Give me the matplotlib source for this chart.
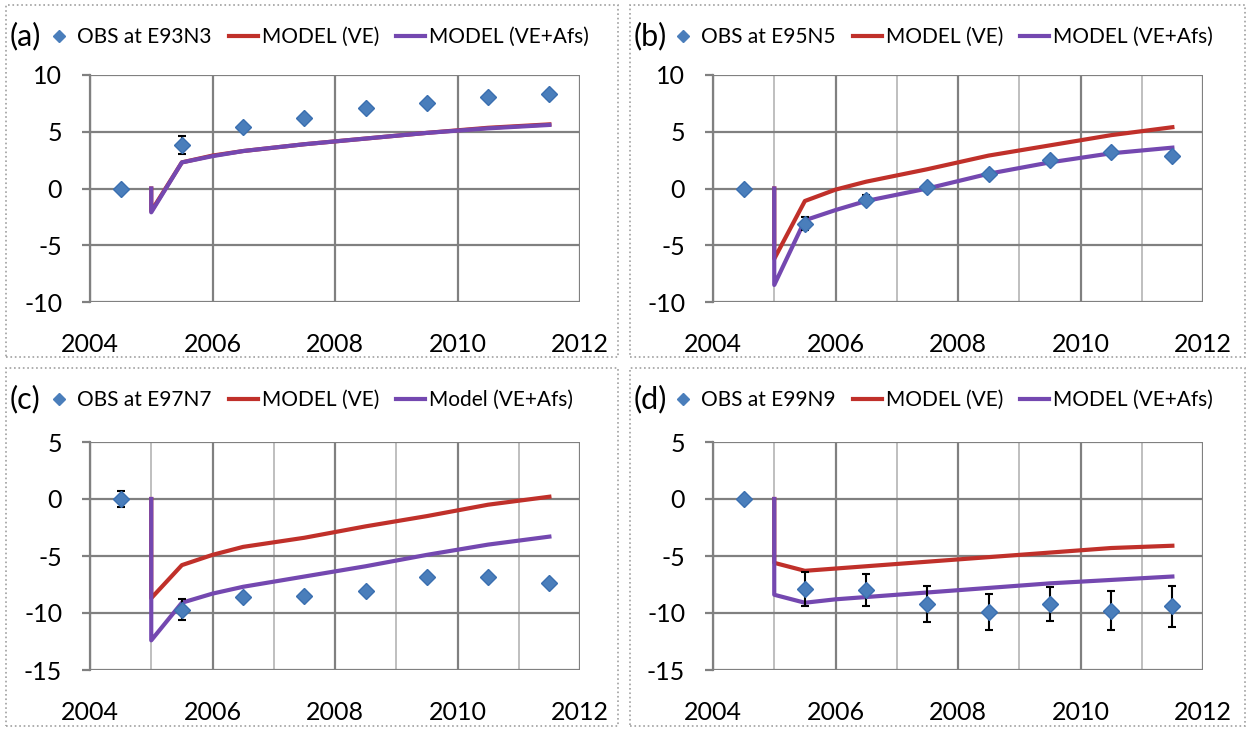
import matplotlib
matplotlib.use('Agg')
import matplotlib.pyplot as plt
from matplotlib.lines import Line2D
from matplotlib.patches import Rectangle

plt.rcParams['font.family'] = ['Lato', 'DejaVu Sans']
plt.rcParams['axes.unicode_minus'] = False

# observation epochs and model epochs (decimal years)
obs_t = [2004.5, 2005.5, 2006.5, 2007.5, 2008.5, 2009.5, 2010.5, 2011.5]
mod_t = [2005.0, 2005.0, 2005.5, 2006.0, 2006.5, 2007.5, 2008.5, 2009.5, 2010.5, 2011.5]

# (a) E93N3
obs_a = [0.0, 3.8, 5.4, 6.2, 7.1, 7.5, 8.1, 8.3]
err_a = [0.0, 0.8, 0.2, 0.2, 0.2, 0.2, 0.2, 0.3]
ve_a = [0.0, -2.0, 2.3, 2.9, 3.3, 3.9, 4.4, 4.9, 5.35, 5.65]
afs_a = [0.0, -2.1, 2.3, 2.85, 3.3, 3.9, 4.4, 4.9, 5.3, 5.6]

# (b) E95N5
obs_b = [0.0, -3.1, -1.0, 0.1, 1.3, 2.5, 3.2, 2.9]
err_b = [0.0, 0.6, 0.4, 0.2, 0.2, 0.2, 0.2, 0.2]
ve_b = [0.0, -6.2, -1.1, -0.1, 0.6, 1.7, 2.9, 3.8, 4.7, 5.4]
afs_b = [0.0, -8.5, -2.8, -1.9, -1.1, 0.0, 1.3, 2.3, 3.1, 3.6]

# (c) E97N7
obs_c = [0.0, -9.7, -8.6, -8.5, -8.1, -6.8, -6.8, -7.4]
err_c = [0.7, 0.9, 0.2, 0.2, 0.2, 0.2, 0.2, 0.2]
ve_c = [0.0, -8.7, -5.8, -4.9, -4.2, -3.4, -2.4, -1.5, -0.5, 0.2]
afs_c = [0.0, -12.4, -9.1, -8.3, -7.7, -6.8, -5.9, -4.9, -4.0, -3.3]

# (d) E99N9
obs_d = [0.0, -7.9, -8.0, -9.2, -9.9, -9.2, -9.8, -9.4]
err_d = [0.0, 1.5, 1.4, 1.6, 1.6, 1.5, 1.7, 1.8]
ve_d = [0.0, -5.6, -6.3, -6.1, -5.9, -5.5, -5.1, -4.7, -4.3, -4.1]
afs_d = [0.0, -8.4, -9.1, -8.8, -8.6, -8.2, -7.8, -7.4, -7.1, -6.8]

panels = [
    ('(a)', 'OBS at E93N3', 'MODEL (VE+Afs)', obs_a, err_a, ve_a, afs_a, (-10, 10), False),
    ('(b)', 'OBS at E95N5', 'MODEL (VE+Afs)', obs_b, err_b, ve_b, afs_b, (-10, 10), True),
    ('(c)', 'OBS at E97N7', 'Model (VE+Afs)', obs_c, err_c, ve_c, afs_c, (-15, 5), True),
    ('(d)', 'OBS at E99N9', 'MODEL (VE+Afs)', obs_d, err_d, ve_d, afs_d, (-15, 5), True),
]

W, H = 1250, 731
fig = plt.figure(figsize=(12.5, 7.31), dpi=100)

# pixel boxes: plot area (left, right, top, bottom) and panel frame
plot_boxes = [(90, 580, 75, 302), (713, 1203, 75, 302),
              (90, 580, 442, 670), (713, 1203, 442, 670)]
frames = [(6, 618, 5, 357), (630, 1245, 5, 357),
          (6, 618, 368, 726), (630, 1245, 368, 726)]

blue = '#4a7ebb'
red = '#c0302a'
purple = '#7448b0'
grid_dark = '#808080'
grid_light = '#b4b4b4'

for (tag, obs_lab, afs_lab, obs, err, ve, afs, ylim, minor), pb, fr in zip(panels, plot_boxes, frames):
    l, r, t, b = pb
    ax = fig.add_axes([l / W, 1 - b / H, (r - l) / W, (b - t) / H])
    ax.set_xlim(2004, 2012)
    ax.set_ylim(*ylim)
    ax.set_xticks([2004, 2006, 2008, 2010, 2012])
    ax.set_yticks(range(ylim[0], ylim[1] + 1, 5))
    if minor:
        ax.set_xticks([2005, 2007, 2009, 2011], minor=True)
        ax.grid(True, which='minor', axis='x', color=grid_light, lw=1.2)
    ax.grid(True, which='major', color=grid_dark, lw=1.6)
    ax.set_axisbelow(True)
    for s in ax.spines.values():
        s.set_visible(False)
    ax.spines['left'].set_visible(True)
    ax.spines['left'].set_color(grid_dark)
    ax.spines['left'].set_linewidth(1.6)
    ax.tick_params(axis='y', length=6, color=grid_dark, width=1.6, labelsize=18, pad=14)
    ax.tick_params(axis='x', which='both', length=0, labelsize=18, pad=22)

    ax.plot(mod_t, ve, color=red, lw=3, zorder=3)
    ax.plot(mod_t, afs, color=purple, lw=3, zorder=4)
    ax.errorbar(obs_t, obs, yerr=err, fmt='D', color=blue, ms=8.5, mec='#3a6fb0',
                ecolor='black', elinewidth=1.5, capsize=3, capthick=1.5, zorder=5)

    fl, fr_, ft, fb = fr
    fig.add_artist(Rectangle((fl / W, 1 - fb / H), (fr_ - fl) / W, (fb - ft) / H,
                             transform=fig.transFigure, fill=False,
                             ec='#a0a0a0', lw=1.2, ls=':'))
    fig.text((fl + 4) / W, 1 - (ft + 31) / H, tag, fontsize=22, va='center', ha='left')

    handles = [Line2D([], [], marker='D', ls='none', color=blue, ms=6),
               Line2D([], [], color=red, lw=3),
               Line2D([], [], color=purple, lw=3)]
    ax.legend(handles, [obs_lab, 'MODEL (VE)', afs_lab], ncol=3,
              loc='center left', bbox_to_anchor=((fl + 38) / W, 1 - (ft + 32) / H),
              bbox_transform=fig.transFigure, frameon=False, fontsize=15,
              handlelength=1.4, handletextpad=0.2, columnspacing=0.8,
              borderaxespad=0, borderpad=0)

fig.savefig('out.png', dpi=100)
